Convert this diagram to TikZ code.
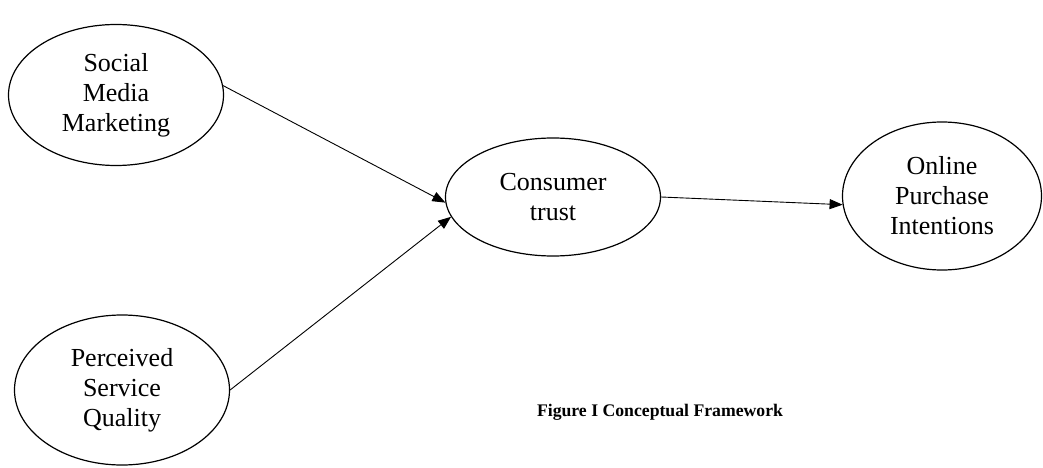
\documentclass[tikz,border=0pt]{standalone}
\usepackage{fontspec}
\setmainfont{Liberation Serif}
\usepackage{tikz}
\usetikzlibrary{arrows.meta, positioning, shapes.geometric}

\begin{document}
\begin{tikzpicture}[
    x=1pt, y=1pt,
    construct/.style={ellipse, draw, line width=1.2pt, inner sep=0pt, align=center, font=\fontsize{26}{30}\selectfont},
    arrow/.style={line width=0.9pt, -{Triangle[length=13pt, width=10pt]}}
]
\useasboundingbox (0,0) rectangle (1043,-468);

\node[construct, minimum width=215pt, minimum height=141pt] (smm) at (116,-95) {Social\\Media\\Marketing};
\node[construct, minimum width=215pt, minimum height=150pt] (psq) at (122,-390) {Perceived\\Service\\Quality};
\node[construct, minimum width=215pt, minimum height=118pt] (ct) at (553,-197) {Consumer\\trust};
\node[construct, minimum width=199pt, minimum height=148pt] (opi) at (942,-196) {Online\\Purchase\\Intentions};
\node[font=\fontsize{17.7}{20}\selectfont\bfseries] (caption) at (660,-412) {Figure I Conceptual Framework};

\draw[arrow] (smm.5) -- (ct.183);
\draw[arrow] (psq.east) -- (ct.191);
\draw[arrow] (ct.east) -- (opi.185);
\end{tikzpicture}
\end{document}
